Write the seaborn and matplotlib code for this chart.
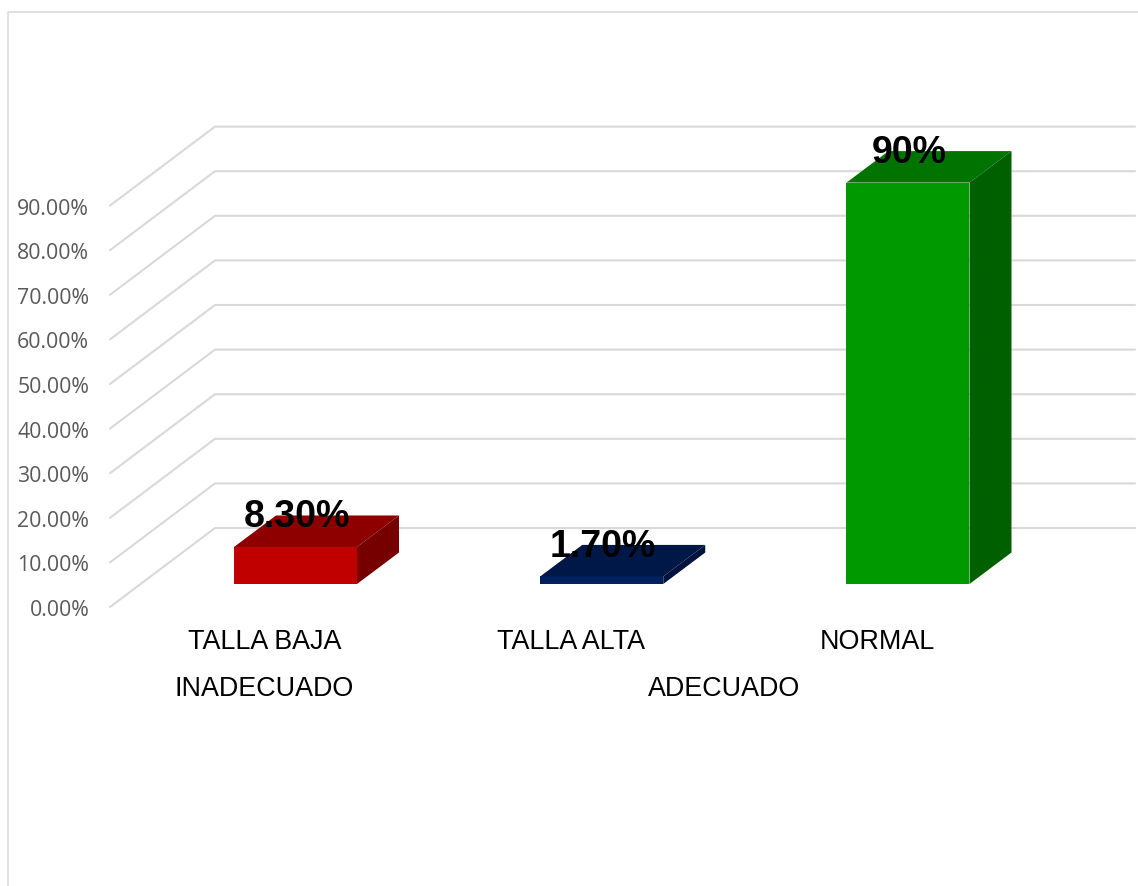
import matplotlib
matplotlib.use("Agg")
import matplotlib.pyplot as plt
import pandas as pd
import seaborn as sns
from matplotlib.lines import Line2D
from matplotlib.patches import Polygon
from matplotlib.transforms import blended_transform_factory

# ---- data -------------------------------------------------------------
categories = ["TALLA BAJA", "TALLA ALTA", "NORMAL"]
values = [8.3, 1.7, 90.0]
value_labels = ["8.30%", "1.70%", "90%"]
group_labels = ["INADECUADO", "ADECUADO"]
group_positions = [0.0, 1.5]
y_ticks = [0, 10, 20, 30, 40, 50, 60, 70, 80, 90]
y_tick_labels = ["0.00%", "10.00%", "20.00%", "30.00%", "40.00%",
                 "50.00%", "60.00%", "70.00%", "80.00%", "90.00%"]
front_colors = ["#C00000", "#002060", "#009900"]
top_colors = ["#8E0000", "#001848", "#007300"]
side_colors = ["#760000", "#00133A", "#006000"]

# ---- layout (pixels) ---------------------------------------------------
W, H = 1138, 887
PX_CAT = 306.25
PX_PCT = 4.46
BAR_LEFT, BAR_RIGHT = 141, 1050
BAR_BASE = 585
PLANE_DX, PLANE_DY = -31, 23
DEPTH_X, DEPTH_Y = 42, 31.5
WALL_DX, WALL_DY = 105, 79
WALL_END = 1135
GRID = "#D9D9D9"
TICK = "#595959"

sns.set_theme(style="white")
plt.rcParams["font.family"] = ["Liberation Sans", "DejaVu Sans"]

fig = plt.figure(figsize=(W / 100, H / 100), dpi=100, facecolor="white")


def rect(left, right, base):
    height = 90 * PX_PCT
    return [left / W, (H - base) / H, (right - left) / W, height / H]


xlim = ((BAR_LEFT - 295.5) / PX_CAT, (BAR_RIGHT - 295.5) / PX_CAT)

# axis plane: tick labels, wall grid
ax2 = fig.add_axes(rect(BAR_LEFT + PLANE_DX, BAR_RIGHT + PLANE_DX, BAR_BASE + PLANE_DY))
ax2.set_xlim(xlim)
ax2.set_ylim(0, 90)
ax2.set_xticks(range(len(categories)))
ax2.set_xticklabels(categories, fontsize=19.4, color="black")
ax2.set_yticks(y_ticks)
ax2.set_yticklabels(y_tick_labels, fontsize=15.3, color=TICK, family="Open Sans")
ax2.tick_params(axis="x", length=0, pad=15)
ax2.tick_params(axis="y", length=0, pad=15)
sns.despine(ax=ax2, left=True, bottom=True)
ax2.patch.set_alpha(0)

axis_width = BAR_RIGHT - BAR_LEFT
blend = blended_transform_factory(ax2.transAxes, ax2.transData)
wall_frac = WALL_DX / axis_width
end_frac = (WALL_END - (BAR_LEFT + PLANE_DX)) / axis_width
rise = WALL_DY / PX_PCT
for v in y_ticks:
    ax2.plot([0, wall_frac, end_frac], [v, v + rise, v + rise], transform=blend,
             color=GRID, lw=1.5, clip_on=False, solid_joinstyle="miter")

label_y = blended_transform_factory(ax2.transData, fig.transFigure)
for pos, label in zip(group_positions, group_labels):
    ax2.text(pos, (H - 689) / H, label, transform=label_y, ha="center", va="center",
             fontsize=19.4, color="black")

# bars
ax = fig.add_axes(rect(BAR_LEFT, BAR_RIGHT, BAR_BASE))
ax.patch.set_alpha(0)
df = pd.DataFrame({"categoria": categories, "valor": values})
sns.barplot(data=df, x="categoria", y="valor", hue="categoria", palette=front_colors,
            width=123 / PX_CAT, saturation=1, legend=False, ax=ax, zorder=3,
            linewidth=0)
ax.set_xlim(xlim)
ax.set_ylim(0, 90)
ax.axis("off")

ddx, ddy = DEPTH_X / PX_CAT, DEPTH_Y / PX_PCT
for i, (val, lab) in enumerate(zip(values, value_labels)):
    half = 123 / PX_CAT / 2
    x0, x1 = i - half, i + half
    ax.add_patch(Polygon([(x0, val), (x1, val), (x1 + ddx, val + ddy), (x0 + ddx, val + ddy)],
                         closed=True, fc=top_colors[i], ec="none", clip_on=False, zorder=3))
    ax.add_patch(Polygon([(x1, 0), (x1 + ddx, ddy), (x1 + ddx, val + ddy), (x1, val)],
                         closed=True, fc=side_colors[i], ec="none", clip_on=False, zorder=3))
    ax.annotate(lab, (i, val + ddy), xytext=(0.7, -0.7), textcoords="offset points",
                ha="center", va="center", fontsize=27, fontweight="bold", color="black",
                annotation_clip=False, zorder=5)

# chart frame
fig.add_artist(Line2D([8 / W, 8 / W, 1], [0, (H - 12.5) / H, (H - 12.5) / H],
                      transform=fig.transFigure, color=GRID, lw=1.1))

fig.savefig("out.png", dpi=100, facecolor="white")
